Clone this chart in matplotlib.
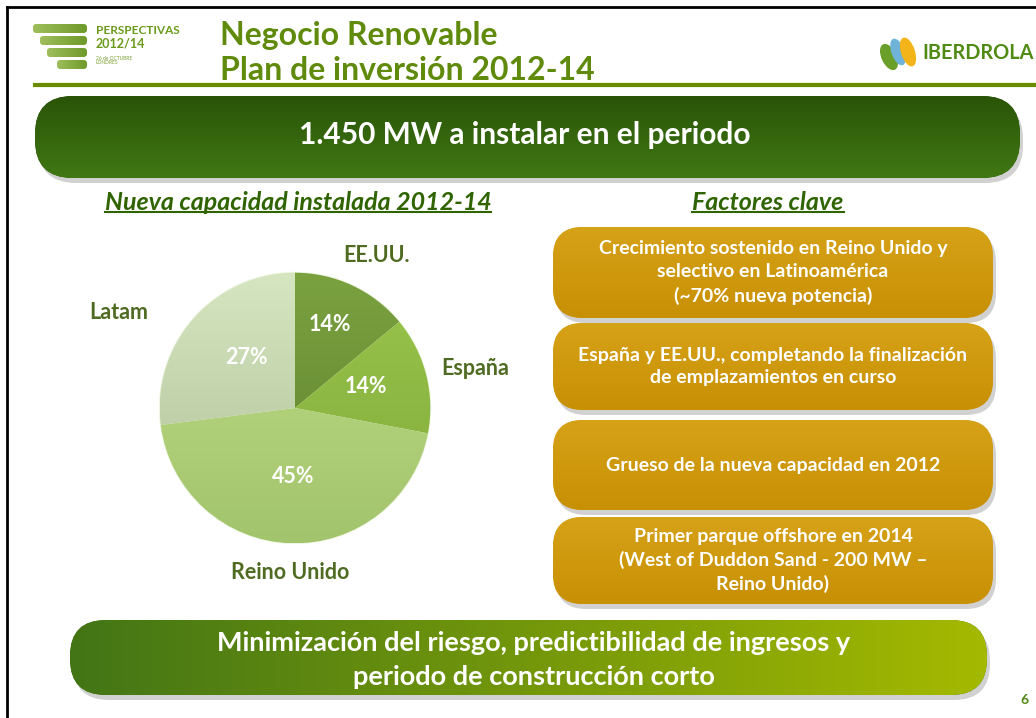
import numpy as np
import matplotlib.pyplot as plt
from matplotlib.patches import FancyBboxPatch, Ellipse
from matplotlib.colors import LinearSegmentedColormap

plt.rcParams['font.family'] = ['Lato', 'DejaVu Sans']

# pie data
regions = ['EE.UU.', 'España', 'Reino Unido', 'Latam']
shares = [14, 14, 45, 27]
top_colors = ['#7ba23f', '#9ac64c', '#c0dc88', '#d6e6c0']
bottom_colors = ['#5b7f2e', '#7fa93a', '#a2c46c', '#aebf98']

# texts
title_lines = ['Negocio Renovable', 'Plan de inversión 2012-14']
banner_text = '1.450 MW a instalar en el periodo'
left_heading = 'Nueva capacidad instalada 2012-14'
right_heading = 'Factores clave'
factores = [
    'Crecimiento sostenido en Reino Unido y\nselectivo en Latinoamérica\n(~70% nueva potencia)',
    'España y EE.UU., completando la finalización\nde emplazamientos en curso',
    'Grueso de la nueva capacidad en 2012',
    'Primer parque offshore en 2014\n(West of Duddon Sand - 200 MW –\nReino Unido)',
]
footer_text = 'Minimización del riesgo, predictibilidad de ingresos y\nperiodo de construcción corto'
page_num = '6'

W, H = 1036, 718
fig = plt.figure(figsize=(W / 100, H / 100), dpi=100)
ax = fig.add_axes([0, 0, 1, 1])
ax.set_xlim(0, W)
ax.set_ylim(H, 0)
ax.axis('off')

green_dark = '#2f6400'
olive = '#5f8a0b'


def gradient_box(x, y, w, h, c1, c2, r, horizontal=False, shadow=True, z=2):
    if shadow:
        sh = FancyBboxPatch((x + 3, y + 5), w, h, boxstyle=f'round,pad=0,rounding_size={r}',
                            fc='#000000', ec='none', alpha=0.18, zorder=z - 1)
        ax.add_patch(sh)
    box = FancyBboxPatch((x, y), w, h, boxstyle=f'round,pad=0,rounding_size={r}',
                         fc=c1, ec='none', zorder=z)
    ax.add_patch(box)
    cmap = LinearSegmentedColormap.from_list('g', [c1, c2])
    grad = np.linspace(0, 1, 256)
    grad = grad[None, :] if horizontal else grad[:, None]
    im = ax.imshow(grad, cmap=cmap, extent=(x, x + w, y + h, y), origin='upper',
                   aspect='auto', zorder=z + 0.1)
    im.set_clip_path(box)
    return box


# slide frame and header rule
ax.plot([7, 7], [7, H], color='black', lw=2, zorder=5)
ax.plot([7, W], [7, 7], color='black', lw=2, zorder=5)
ax.plot([35, W], [85, 85], color='#6a8c00', lw=3, zorder=5)

# left logo
for (x0, y0) in [(33, 24), (40, 36), (47, 48), (57, 60)]:
    gradient_box(x0, y0, 87 - x0, 9, '#9fbe5c', '#6e9a2a', 4, horizontal=True, shadow=False)
ax.text(96, 31, 'PERSPECTIVAS', fontsize=8.5, fontweight='bold', color='#6a9a1a', va='center')
ax.text(96, 44, '2012/14', fontsize=9, fontweight='bold', color='#6a9a1a', va='center')
ax.text(96, 58, '26 de OCTUBRE', fontsize=3.5, color='#7aa030', va='center')
ax.text(96, 63, 'LONDRES', fontsize=3.5, color='#7aa030', va='center')

# title
ax.text(220, 36, title_lines[0], fontsize=23, fontweight='bold', color=olive, va='center')
ax.text(220, 70, title_lines[1], fontsize=23, fontweight='bold', color=olive, va='center')

# iberdrola logo
ax.add_patch(Ellipse((889, 57), 15, 28, angle=-25, fc='#6aa02a', ec='none', zorder=3))
ax.add_patch(Ellipse((898, 52), 13, 28, angle=-20, fc='#6fb3d9', ec='none', zorder=3.1))
ax.add_patch(Ellipse((908, 52), 14, 30, angle=-18, fc='#f2b418', ec='none', zorder=3.2))
ax.text(922, 53, 'IBERDROLA', fontsize=14.3, fontweight='bold', color='#4f8a12', va='center')

# banner
gradient_box(35, 96, 985, 82, '#2a5408', '#407813', 38)
ax.text(525, 135, banner_text, fontsize=21.5, fontweight='bold', color='white',
        ha='center', va='center', zorder=4)

# headings
heads = []
for xc, s in [(298, left_heading), (768, right_heading)]:
    heads.append(ax.text(xc, 202, s, fontsize=18, fontweight='bold', style='italic',
                         color=green_dark, ha='center', va='center', zorder=4))

fig.canvas.draw()
for t in heads:
    bb = t.get_window_extent().transformed(ax.transData.inverted())
    ax.plot([bb.x0, bb.x1], [bb.y0 - 2, bb.y0 - 2], color=green_dark, lw=1.5, zorder=4)

# factores clave boxes
box_y = [(227, 318), (323, 410), (420, 510), (517, 604)]
for (y0, y1), s in zip(box_y, factores):
    gradient_box(553, y0, 440, y1 - y0, '#d6a218', '#c89004', 30)
    ax.text(773, (y0 + y1) / 2, s, fontsize=14, fontweight='bold', color='white',
            ha='center', va='center', linespacing=1.42, zorder=4)

# footer banner
gradient_box(70, 620, 917, 75, '#437516', '#a4b900', 36, horizontal=True)
ax.text(534, 660, footer_text, fontsize=19.5, fontweight='bold', color='white',
        ha='center', va='center', linespacing=1.5, zorder=4)

ax.text(1024, 700, page_num, fontsize=10, fontweight='bold', color='#4f8a12',
        ha='center', va='center')

# pie chart
cx, cy, R = 295, 408, 138
pax = fig.add_axes([(cx - R) / W, (H - cy - R) / H, 2 * R / W, 2 * R / H])
wedges, _, autotexts = pax.pie(shares, startangle=90, counterclock=False,
                               colors=top_colors, autopct='%d%%', pctdistance=0.6,
                               wedgeprops=dict(edgecolor='#eef5e0', linewidth=1.2),
                               textprops=dict(color='white', fontsize=15.5, fontweight='bold'))
pax.set_xlim(-1.02, 1.02)
pax.set_ylim(-1.02, 1.02)
for w, c1, c2 in zip(wedges, top_colors, bottom_colors):
    cmap = LinearSegmentedColormap.from_list('w', [c1, c2])
    im = pax.imshow(np.linspace(0, 1, 256)[:, None], cmap=cmap, extent=(-1, 1, -1, 1),
                    origin='upper', aspect='auto', zorder=1.5)
    im.set_clip_path(w)
    w.set_zorder(1)
    w.set_facecolor('none')

# move percentage labels to where the slide puts them
pct_dist = [0.67, 0.55, 0.51, 0.52]
pct_shift = [2.5, 2.5, 0, -5]
for w, t, d, sh in zip(wedges, autotexts, pct_dist, pct_shift):
    ang = np.deg2rad((w.theta1 + w.theta2) / 2 + sh)
    t.set_position((d * np.cos(ang), d * np.sin(ang)))
    t.set_zorder(3)

# category labels beside the pie
label_dist = [1.28, 1.36, 1.22, 1.48]
label_shift = [-3, -2, 0, 13]
for w, name, d, sh in zip(wedges, regions, label_dist, label_shift):
    ang = np.deg2rad((w.theta1 + w.theta2) / 2 + sh)
    pax.text(d * np.cos(ang), d * np.sin(ang), name, fontsize=15.5, fontweight='bold',
             color='#4f6b22', ha='center', va='center', clip_on=False)

fig.savefig('out.png', dpi=100)
